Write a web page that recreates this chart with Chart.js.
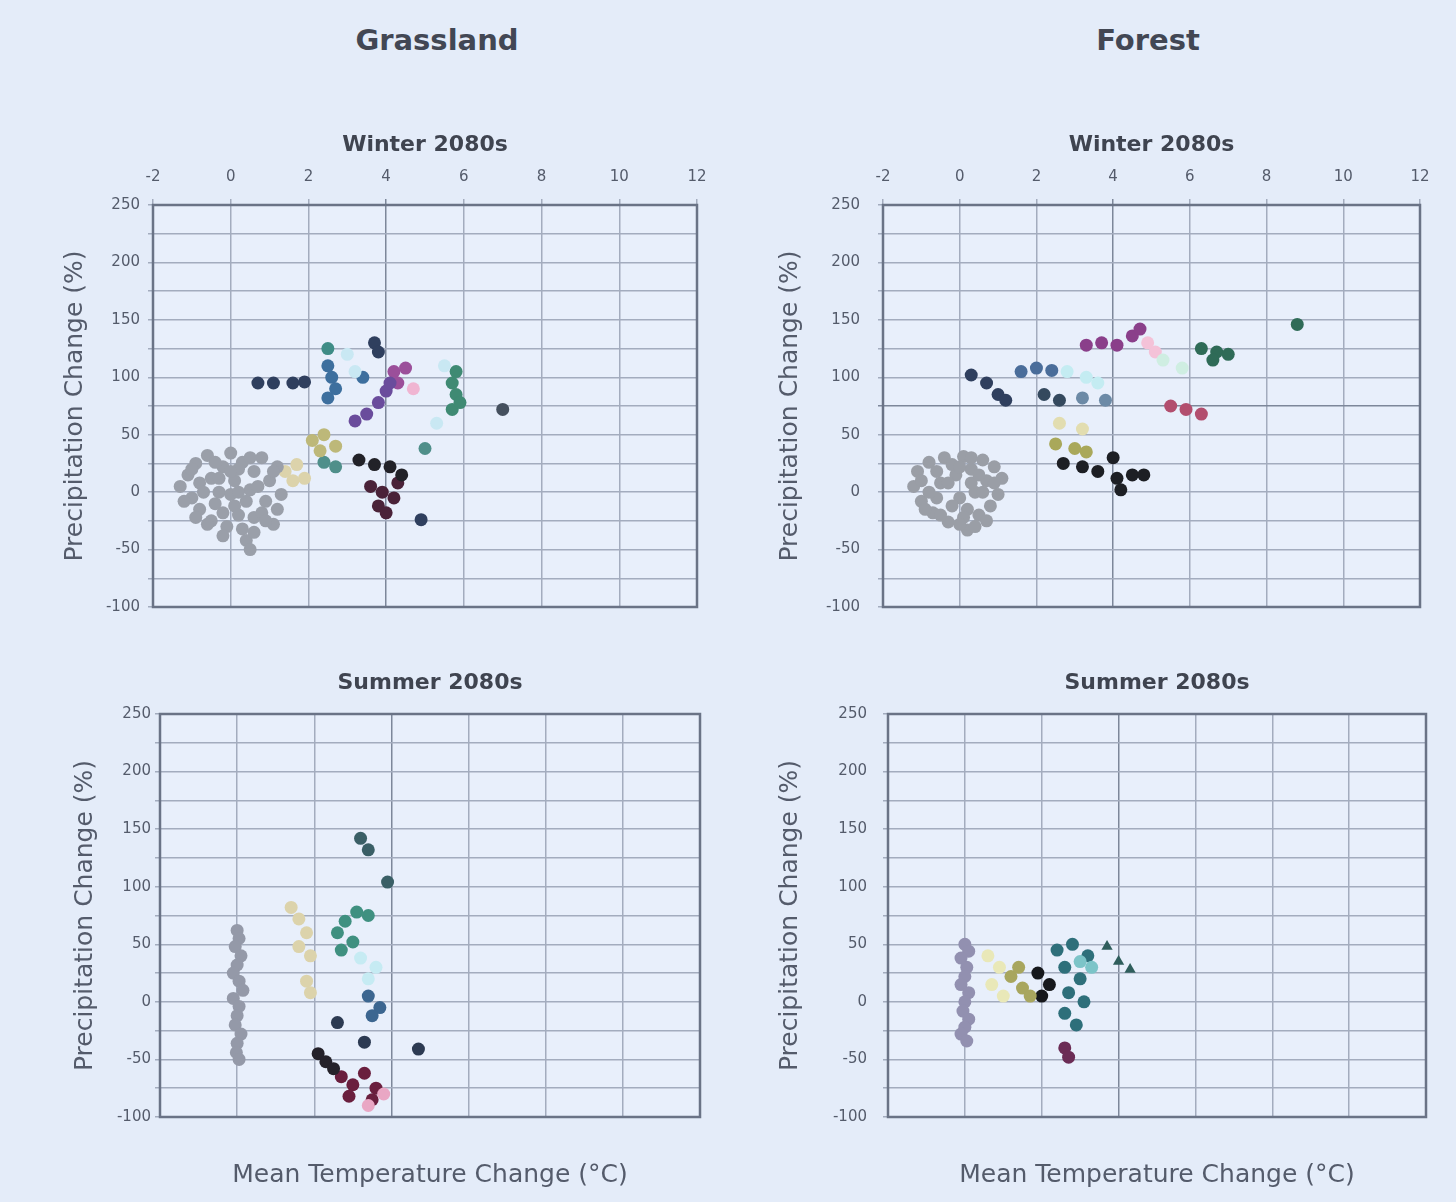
<!DOCTYPE html>
<html>
<head>
<meta charset="utf-8">
<script src="https://cdn.jsdelivr.net/npm/chart.js@4.4.1/dist/chart.umd.min.js"></script>
<style>
  html, body { margin: 0; padding: 0; width: 1456px; height: 1202px; overflow: hidden;
               background: #e4ecf9; font-family: "DejaVu Sans", sans-serif; }
  .hdr { position: absolute; top: 22px; width: 400px; text-align: center; line-height: 36px;
         font-size: 29px; font-weight: bold; color: #424754; }
  canvas { position: absolute; }
</style>
</head>
<body>
<div class="hdr" style="left:237px">Grassland</div>
<div class="hdr" style="left:948px">Forest</div>
<canvas id="grassWinter"></canvas>
<canvas id="forestWinter"></canvas>
<canvas id="grassSummer"></canvas>
<canvas id="forestSummer"></canvas>
<script>
// ---- axis ticks ----
const tempTicks = [-2, 0, 2, 4, 6, 8, 10, 12];
const precipTicks = [-100, -50, 0, 50, 100, 150, 200, 250];

// ---- Grassland, winter 2080s: [temperature change °C, precipitation change %] ----
const gwBaseline = [[-1.3,5],[-1.1,15],[-1.0,-5],[-0.9,25],[-0.8,-15],[-0.6,32],[-0.5,12],[-0.5,-25],[-0.3,0],[-0.2,22],[-0.1,-30],[0,34],[0.1,10],[0.1,-12],[0.3,26],[0.3,-32],[0.5,2],[0.6,18],[0.6,-22],[0.8,30],[0.9,-8],[1.0,10],[1.1,-28],[1.2,22],[1.3,-2],[0.4,-42],[0.5,-50],[-0.8,8],[0.2,-20],[-0.4,-10],
  [-1.2,-8],[-1.0,20],[-0.7,0],[-0.6,-28],[-0.3,12],[-0.2,-18],[0,-2],[0.2,20],[0.4,-8],[0.7,5],[0.8,-18],[1.1,18],[1.2,-15],[-0.9,-22],[0.0,18],[-0.4,26],[0.5,30],[0.2,0],[0.9,-25],[-0.2,-38],[0.6,-35]];
const gwPale = [[1.4,18],[1.7,24],[1.9,12],[1.6,10]];
const gwOlive = [[2.1,45],[2.4,50],[2.7,40],[2.3,36]];
const gwCyan = [[3.0,120],[3.2,105],[5.5,110],[5.3,60]];
const gwTeal = [[2.4,26],[2.7,22],[5.0,38]];
const gwNavy = [[0.7,95],[1.1,95],[1.6,95],[1.9,96],[3.7,130],[3.8,122],[4.9,-24]];
const gwBlue = [[2.5,110],[2.6,100],[2.7,90],[2.5,82],[3.4,100]];
const gwSea = [[2.5,125]];
const gwPurple = [[3.2,62],[3.5,68],[3.8,78],[4.0,88],[4.1,95]];
const gwMagenta = [[4.2,105],[4.5,108],[4.3,95]];
const gwPink = [[4.7,90]];
const gwGreen = [[5.8,105],[5.7,95],[5.8,85],[5.7,72],[5.9,78]];
const gwSlate = [[7.0,72]];
const gwBlack = [[3.3,28],[3.7,24],[4.1,22],[4.4,15]];
const gwMaroon = [[3.6,5],[3.9,0],[4.2,-5],[3.8,-12],[4.3,8],[4.0,-18]];

// ---- Forest, winter 2080s ----
const fwBaseline = [[-1.2,5],[-1.1,18],[-1.0,-8],[-0.8,26],[-0.7,-18],[-0.5,8],[-0.4,30],[-0.3,-26],[-0.1,15],[0,-5],[0.1,31],[0.2,-33],[0.3,20],[0.4,0],[0.5,-20],[0.6,28],[0.7,10],[0.8,-12],[0.9,22],[1.0,-2],[1.1,12],[-0.6,-5],[0.2,-15],[-0.2,24],[0.4,-30],
  [-1.0,10],[-0.9,-15],[-0.6,18],[-0.3,8],[-0.2,-12],[0.0,22],[0.1,-22],[0.3,8],[0.6,0],[0.7,-25],[0.9,8],[0.5,15],[-0.5,-20],[0.0,-28],[0.3,30],[-0.8,0]];
const fwPale = [[2.6,60],[3.2,55]];
const fwOlive = [[2.5,42],[3.0,38],[3.3,35]];
const fwCyan = [[2.8,105],[3.3,100],[3.6,95]];
const fwMint = [[5.3,115],[5.8,108]];
const fwNavy = [[0.3,102],[0.7,95],[1.0,85],[1.2,80]];
const fwBlue = [[1.6,105],[2.0,108],[2.4,106]];
const fwSlate = [[2.2,85],[2.6,80]];
const fwSteel = [[3.2,82],[3.8,80]];
const fwMagenta = [[3.3,128],[3.7,130],[4.1,128],[4.5,136],[4.7,142]];
const fwPink = [[4.9,130],[5.1,122]];
const fwGreen = [[6.3,125],[6.7,122],[7.0,120],[6.6,115],[8.8,146]];
const fwRose = [[5.5,75],[5.9,72],[6.3,68]];
const fwBlack = [[2.7,25],[3.2,22],[3.6,18],[4.0,30],[4.1,12],[4.5,15],[4.8,15],[4.2,2]];

// ---- Grassland, summer 2080s ----
const gsBaseline = [[0,62],[0.05,55],[-0.05,48],[0.1,40],[0,32],[-0.1,25],[0.05,18],[0.15,10],[-0.1,3],[0.05,-4],[0,-12],[-0.05,-20],[0.1,-28],[0,-36],[-0.02,-44],[0.05,-50]];
const gsPale = [[1.4,82],[1.6,72],[1.8,60],[1.6,48],[1.9,40],[1.8,18],[1.9,8]];
const gsCyan = [[3.2,38],[3.6,30],[3.4,20]];
const gsTeal = [[2.6,60],[2.8,70],[3.1,78],[3.4,75],[2.7,45],[3.0,52]];
const gsDarkTeal = [[3.2,142],[3.4,132],[3.9,104]];
const gsBlue = [[3.4,5],[3.7,-5],[3.5,-12]];
const gsNavy = [[2.6,-18],[3.3,-35],[4.7,-41]];
const gsBlack = [[2.1,-45],[2.3,-52],[2.5,-58]];
const gsPink = [[3.4,-90],[3.8,-80]];
const gsMaroon = [[2.7,-65],[3.0,-72],[3.3,-62],[3.6,-75],[2.9,-82],[3.5,-85]];

// ---- Forest, summer 2080s ----
const fsBaseline = [[0,50],[0.1,44],[-0.1,38],[0.05,30],[0,22],[-0.1,15],[0.1,8],[0,0],[-0.05,-8],[0.1,-15],[0,-22],[-0.1,-28],[0.05,-34]];
const fsPale = [[0.6,40],[0.9,30],[0.7,15],[1.0,5]];
const fsOlive = [[1.2,22],[1.5,12],[1.4,30],[1.7,5]];
const fsLightTeal = [[3.0,35],[3.3,30]];
const fsBlack = [[1.9,25],[2.2,15],[2.0,5]];
const fsTeal = [[2.4,45],[2.8,50],[3.2,40],[2.6,30],[3.0,20],[2.7,8],[3.1,0],[2.6,-10],[2.9,-20]];
const fsDarkTeal = [[3.7,48],[4.0,35],[4.3,28]];
const fsMaroon = [[2.6,-40],[2.7,-48]];

// ---- drawing ----
const FONT = "DejaVu Sans";
const TEXT = "#545b6b";

// plot background and frame
const framePlugin = {
  id: 'frame',
  beforeDraw(chart) {
    const {ctx, chartArea: a} = chart;
    ctx.save();
    ctx.fillStyle = '#e8effb';
    ctx.fillRect(a.left, a.top, a.right - a.left, a.bottom - a.top);
    ctx.restore();
  },
  afterDraw(chart) {
    const {ctx, chartArea: a} = chart;
    ctx.save();
    ctx.strokeStyle = '#6a7386';
    ctx.lineWidth = 2.5;
    ctx.strokeRect(a.left, a.top, a.right - a.left, a.bottom - a.top);
    ctx.restore();
  }
};

function panel(p) {
  const cv = document.getElementById(p.id);
  cv.width = p.w; cv.height = p.h;
  cv.style.left = p.left + 'px'; cv.style.top = p.top + 'px';
  const a = p.area;
  const axisLH = 30;
  const padLeft = p.yTitleX - axisLH / 2 - p.left;
  const titleLH = 26.4;
  const titleTop = p.titleY - p.top - titleLH / 2;
  const titleBottom = p.onTop ? 0 : a.t - (p.top + titleTop + titleLH);
  const datasets = p.series.map((pts, i) => ({
    data: pts.map(v => ({x: v[0], y: v[1]})),
    backgroundColor: p.colors[i],
    borderColor: p.colors[i],
    borderWidth: 0,
    pointRadius: 6.5,
    pointStyle: (p.styles && p.styles[i]) || 'circle'
  }));
  new Chart(cv, {
    type: 'scatter',
    data: { datasets },
    options: {
      responsive: false, animation: false, devicePixelRatio: 1,
      layout: { padding: { left: padLeft, right: p.left + p.w - a.r, top: 0,
                           bottom: p.onTop ? p.top + p.h - a.b : 0 } },
      plugins: {
        legend: { display: false }, tooltip: { enabled: false },
        title: { display: true, fullSize: false, text: p.title, color: '#3f4450',
                 font: { family: FONT, size: 22, weight: 'bold' },
                 padding: { top: titleTop, bottom: titleBottom } }
      },
      scales: {
        x: {
          type: 'linear', position: p.onTop ? 'top' : 'bottom',
          min: tempTicks[0], max: tempTicks[tempTicks.length - 1],
          afterBuildTicks: s => { s.ticks = tempTicks.map(v => ({value: v})); },
          ticks: { display: p.onTop, autoSkip: false, maxRotation: 0, padding: 13,
                   color: TEXT, font: { family: FONT, size: 15 } },
          grid: { drawTicks: p.onTop, tickLength: 6, lineWidth: 1.5,
                  color: c => (c.tick && c.tick.value === 4 ? '#7d879a' : '#a3acbe') },
          border: { display: false },
          title: { display: !p.onTop, text: 'Mean Temperature Change (°C)', color: TEXT,
                   font: { family: FONT, size: 25 },
                   padding: { top: 0, bottom: p.top + p.h - p.xTitleY - axisLH / 2 } },
          afterFit: s => { s.height = p.onTop ? a.t - (p.top + titleTop + titleLH) : p.top + p.h - a.b; }
        },
        y: {
          min: -100, max: 250,
          ticks: { stepSize: 25, autoSkip: false, padding: p.yPad, color: TEXT,
                   font: { family: FONT, size: 15 },
                   callback: v => (precipTicks.includes(v) ? String(v) : '') },
          grid: { lineWidth: 1.5, tickLength: 5,
                  color: c => (p.darkY !== undefined && c.tick && c.tick.value === p.darkY ? '#7d879a' : '#a3acbe') },
          border: { display: false },
          title: { display: true, text: 'Precipitation Change (%)', color: TEXT,
                   font: { family: FONT, size: 25 }, padding: { top: 0, bottom: 0 } },
          afterFit: s => { s.width = a.l - p.left - padLeft; }
        }
      }
    },
    plugins: [framePlugin]
  });
}

panel({
  id: 'grassWinter', title: 'Winter 2080s', onTop: true,
  left: 0, top: 96, w: 728, h: 560,
  area: { l: 153, t: 205, r: 697, b: 607 }, titleY: 145, yTitleX: 75, yPad: 8,
  series: [gwBaseline, gwPale, gwOlive, gwCyan, gwTeal, gwNavy, gwBlue, gwSea, gwPurple,
           gwMagenta, gwPink, gwGreen, gwSlate, gwBlack, gwMaroon],
  colors: ['#9a9fa9', '#dcd3ab', '#bdb879', '#c9e8f3', '#4f8f8a', '#2f3f5e', '#3d6f9e', '#3e8c86',
           '#6a4c9c', '#9b4f9a', '#f0b5d2', '#3f8a73', '#45505e', '#222228', '#4a2238']
});

panel({
  id: 'forestWinter', title: 'Winter 2080s', onTop: true, darkY: 75,
  left: 728, top: 96, w: 728, h: 560,
  area: { l: 883, t: 205, r: 1420, b: 607 }, titleY: 145, yTitleX: 790, yPad: 18,
  series: [fwBaseline, fwPale, fwOlive, fwCyan, fwMint, fwNavy, fwBlue, fwSlate, fwSteel,
           fwMagenta, fwPink, fwGreen, fwRose, fwBlack],
  colors: ['#9a9ea6', '#e2ddb0', '#a9a85a', '#c4ecf2', '#cfeee2', '#2f3f5e', '#4a6d9a', '#34495e',
           '#6c8aa6', '#8a3f8a', '#f4c2d8', '#2f6b57', '#b24e6e', '#1d1f24']
});

panel({
  id: 'grassSummer', title: 'Summer 2080s', onTop: false,
  left: 0, top: 650, w: 728, h: 552,
  area: { l: 160, t: 714, r: 700, b: 1117 }, titleY: 683, yTitleX: 85, yPad: 4, xTitleY: 1175,
  series: [gsBaseline, gsPale, gsCyan, gsTeal, gsDarkTeal, gsBlue, gsNavy, gsBlack, gsPink, gsMaroon],
  colors: ['#9499a8', '#dcd3ab', '#c6ebf3', '#3f9080', '#3a5f66', '#3c6690', '#2c3a52', '#25222a',
           '#e9a7c4', '#6a1f3e']
});

panel({
  id: 'forestSummer', title: 'Summer 2080s', onTop: false,
  left: 728, top: 650, w: 728, h: 552,
  area: { l: 888, t: 714, r: 1426, b: 1117 }, titleY: 683, yTitleX: 790, yPad: 16, xTitleY: 1175,
  series: [fsBaseline, fsPale, fsOlive, fsLightTeal, fsBlack, fsTeal, fsDarkTeal, fsMaroon],
  colors: ['#9290b0', '#e9e8b8', '#a8a65e', '#7cc4c8', '#16181c', '#2e6f7a', '#2f5e5c', '#6b2c55'],
  styles: [null, null, null, null, null, null, 'triangle', null]
});
</script>
</body>
</html>
